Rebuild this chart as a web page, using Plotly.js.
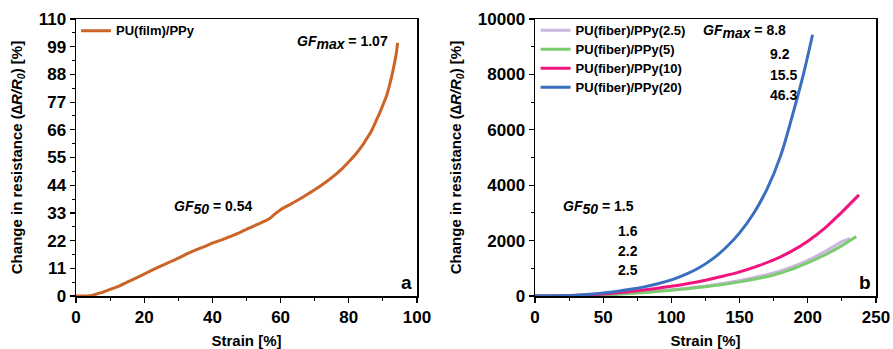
<!DOCTYPE html>
<html><head><meta charset="utf-8">
<script src="https://cdn.plot.ly/plotly-3.0.1.min.js"></script>
<style>html,body{margin:0;padding:0;background:#fff}</style>
</head><body><div id="chart" style="width:893px;height:349px"></div>
<script>
// Panel a: PU(film)/PPy
const filmStrain = [0,3,5,6,8,10,12,15,18,20,22,25,28,30,33,35,38,40,43,45,48,50,53,55,57,58,60,62,65,68,70,73,75,78,80,82,84,85,86,87,88,89,90,91,92,93,94,94.3];
const filmRes    = [0,0,0.3,0.8,1.6,2.6,3.6,5.5,7.4,8.7,10.1,12,13.8,15,17,18.2,19.8,21,22.4,23.5,25.2,26.5,28.3,29.5,31,32.2,34.3,35.8,38,40.5,42.2,45,47,50.5,53.3,56.3,59.8,62,64,66.5,69.5,72.5,75.8,79.2,84,89.8,97,100.5];

// Panel b: PU(fiber)/PPy series
const fiberStrain25 = [0,12.5,25,37.5,50,62.5,75,87.5,100,112.5,125,137.5,150,162.5,175,187.5,200,212.5,225,231];
const fiberRes25    = [0,2,9,22,45,80,125,175,230,290,360,450,560,685,830,1030,1290,1600,1960,2080];
const fiberStrain5  = [0,12.5,25,37.5,50,62.5,75,87.5,100,112.5,125,137.5,150,162.5,175,187.5,200,212.5,225,235.5];
const fiberRes5     = [0,2,8,20,40,70,110,155,210,265,330,410,510,625,760,950,1200,1480,1820,2150];
const fiberStrain10 = [0,12.5,25,37.5,50,62.5,75,87.5,100,112.5,125,137.5,150,162.5,175,187.5,200,212.5,225,237.5];
const fiberRes10    = [0,3,12,35,70,125,190,265,350,450,570,710,870,1070,1300,1600,1980,2450,3030,3650];
const fiberStrain20 = [0,10,20,30,40,50,60,70,80,90,100,110,120,130,140,150,160,170,180,190,197,203.5];
const fiberRes20    = [0,3,12,30,60,105,165,240,330,440,580,770,1010,1330,1750,2280,2960,3850,5050,6750,8050,9430];

const seriesNames = ['PU(fiber)/PPy(2.5)','PU(fiber)/PPy(5)','PU(fiber)/PPy(10)','PU(fiber)/PPy(20)'];
const seriesColors = ['#c9b6e2','#7ccb6e','#f0147f','#3a6fc0'];

const xTicksA = [0,20,40,60,80,100];
const yTicksA = [0,11,22,33,44,55,66,77,88,99,110];
const xTicksB = [0,50,100,150,200,250];
const yTicksB = [0,2000,4000,6000,8000,10000];

const FONT = 'Arial, "Liberation Sans", sans-serif';
const legName = s => '<span style="font-size:13px">'+s+'</span>';

const traces = [
  {x: filmStrain, y: filmRes, type:'scatter', mode:'lines', name:legName('PU(film)/PPy'),
   line:{color:'#cc6428', width:3, shape:'spline', smoothing:0.6}, xaxis:'x', yaxis:'y', legend:'legend'},
  {x: fiberStrain25, y: fiberRes25, type:'scatter', mode:'lines', name: legName(seriesNames[0]),
   line:{color:seriesColors[0], width:3, shape:'spline'}, xaxis:'x2', yaxis:'y2', legend:'legend2'},
  {x: fiberStrain5, y: fiberRes5, type:'scatter', mode:'lines', name: legName(seriesNames[1]),
   line:{color:seriesColors[1], width:3, shape:'spline'}, xaxis:'x2', yaxis:'y2', legend:'legend2'},
  {x: fiberStrain10, y: fiberRes10, type:'scatter', mode:'lines', name: legName(seriesNames[2]),
   line:{color:seriesColors[2], width:3, shape:'spline'}, xaxis:'x2', yaxis:'y2', legend:'legend2'},
  {x: fiberStrain20, y: fiberRes20, type:'scatter', mode:'lines', name: legName(seriesNames[3]),
   line:{color:seriesColors[3], width:3, shape:'spline'}, xaxis:'x2', yaxis:'y2', legend:'legend2'}
];

const tickFont = {family: FONT, size: 17, color:'#000', weight:'bold'};
const titleFont = {family: FONT, size: 15, color:'#000', weight:'bold'};
function minorTicks(vals){
  return {ticks:'outside', ticklen:3, tickwidth:1, tickcolor:'#000', tickvals: vals, showgrid:false};
}
function mid(arr){ const out=[]; for(let i=0;i<arr.length-1;i++) out.push((arr[i]+arr[i+1])/2); return out; }
function axisBase(extra){
  return Object.assign({
    showline:true, linecolor:'#000', linewidth:1.5, mirror:true,
    ticks:'outside', ticklen:5, tickwidth:1.2, tickcolor:'#000',
    showgrid:false, zeroline:false, tickfont: tickFont
  }, extra);
}

const yTitle = 'Change in resistance (<i>∆R/R<sub>0</sub></i>) [%]';
const sub = s => '<sub><span style="font-size:14px">'+s+'</span></sub>';
const annFont = {family:FONT, size:14, color:'#000'};

const layout = {
  width: 893, height: 349,
  margin: {l:76, r:17, t:19, b:53},
  paper_bgcolor:'#fff', plot_bgcolor:'#fff',
  font: {family: FONT, color:'#000'},
  showlegend: true,
  xaxis: axisBase({domain:[0,0.42625], range:[0,100], tickvals:xTicksA, ticktext:xTicksA.map(String), minor:minorTicks(mid(xTicksA)),
    title:{text:'<b>Strain [%]</b>', font:titleFont, standoff:14}, anchor:'y'}),
  yaxis: axisBase({domain:[0,1], range:[0,110], tickvals:yTicksA, ticktext:yTicksA.map(String), minor:minorTicks(mid(yTicksA)),
    title:{text:'<b>'+yTitle+'</b>', font:titleFont, standoff:12}, anchor:'x'}),
  xaxis2: axisBase({domain:[0.57375,1], range:[0,250], tickvals:xTicksB, ticktext:xTicksB.map(String), minor:minorTicks(mid(xTicksB)),
    title:{text:'<b>Strain [%]</b>', font:titleFont, standoff:14}, anchor:'y2'}),
  yaxis2: axisBase({domain:[0,1], range:[0,10000], tickvals:yTicksB, ticktext:yTicksB.map(String), minor:minorTicks(mid(yTicksB)),
    title:{text:'<b>'+yTitle+'</b>', font:titleFont, standoff:12}, anchor:'x2'}),
  legend: {x:0.0, y:1.01, xanchor:'left', yanchor:'top', bgcolor:'rgba(0,0,0,0)',
    font:{family:FONT, size:12, color:'#000', weight:'bold'}, tracegroupgap:0},
  legend2: {x:0.5745, y:1.012, xanchor:'left', yanchor:'top', bgcolor:'rgba(0,0,0,0)',
    font:{family:FONT, size:12, color:'#000', weight:'bold'}, tracegroupgap:0},
  annotations: [
    {xref:'x', yref:'y', x:64.2, y:100.5, xanchor:'left', yanchor:'middle', showarrow:false,
     text:'<b><i>GF</i>'+sub('<i>max</i>')+' = 1.07</b>', font:annFont},
    {xref:'x', yref:'y', x:28.2, y:35.3, xanchor:'left', yanchor:'middle', showarrow:false,
     text:'<b><i>GF</i>'+sub('<i>50</i>')+' = 0.54</b>', font:annFont},
    {xref:'x domain', yref:'y domain', x:0.99, y:0.005, xanchor:'right', yanchor:'bottom', showarrow:false,
     text:'<b>a</b>', font:{family:FONT, size:19, color:'#000'}},
    {xref:'x2', yref:'y2', x:121.7, y:9541, xanchor:'left', yanchor:'middle', showarrow:false,
     text:'<b><i>GF</i>'+sub('<i>max</i>')+' = 8.8</b>', font:annFont},
    {xref:'x2', yref:'y2', x:170.8, y:8746, xanchor:'left', yanchor:'middle', showarrow:false,
     text:'<b>9.2</b>', font:annFont},
    {xref:'x2', yref:'y2', x:170.8, y:7987, xanchor:'left', yanchor:'middle', showarrow:false,
     text:'<b>15.5</b>', font:annFont},
    {xref:'x2', yref:'y2', x:170.8, y:7264, xanchor:'left', yanchor:'middle', showarrow:false,
     text:'<b>46.3</b>', font:annFont},
    {xref:'x2', yref:'y2', x:19, y:3180, xanchor:'left', yanchor:'middle', showarrow:false,
     text:'<b><i>GF</i>'+sub('<i>50</i>')+' = 1.5</b>', font:annFont},
    {xref:'x2', yref:'y2', x:59.2, y:2349, xanchor:'left', yanchor:'middle', showarrow:false,
     text:'<b>1.6</b>', font:annFont},
    {xref:'x2', yref:'y2', x:59.2, y:1626, xanchor:'left', yanchor:'middle', showarrow:false,
     text:'<b>2.2</b>', font:annFont},
    {xref:'x2', yref:'y2', x:59.2, y:940, xanchor:'left', yanchor:'middle', showarrow:false,
     text:'<b>2.5</b>', font:annFont},
    {xref:'x2 domain', yref:'y2 domain', x:0.99, y:0.005, xanchor:'right', yanchor:'bottom', showarrow:false,
     text:'<b>b</b>', font:{family:FONT, size:19, color:'#000'}}
  ]
};

Plotly.newPlot('chart', traces, layout, {displayModeBar:false, staticPlot:true});
</script>
</body></html>
